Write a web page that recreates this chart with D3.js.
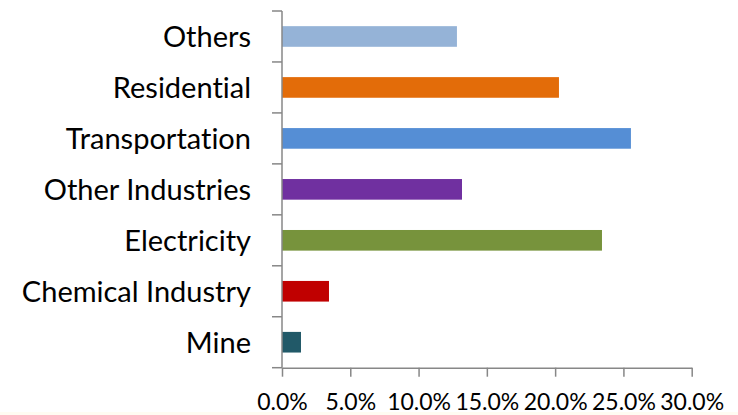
<!DOCTYPE html>
<html>
<head>
<meta charset="utf-8">
<script src="https://cdn.jsdelivr.net/npm/d3@7/dist/d3.min.js"></script>
<style>
  html, body { margin: 0; padding: 0; background: #fff; }
  svg { display: block; }
  text { font-family: Lato, "Open Sans", sans-serif; fill: #000; font-variant-ligatures: none; }
</style>
</head>
<body>
<svg id="chart" width="738" height="415"></svg>
<script>
// Sector shares, listed bottom to top as drawn
const categories = ["Mine", "Chemical Industry", "Electricity", "Other Industries", "Transportation", "Residential", "Others"];
const shares = [0.0139, 0.0344, 0.2343, 0.1318, 0.2555, 0.2028, 0.1281];
const barColors = ["#215968", "#C00000", "#77933C", "#7030A0", "#558ED5", "#E36C09", "#95B3D7"];
const xTicks = [0, 0.05, 0.10, 0.15, 0.20, 0.25, 0.30];

const svg = d3.select("#chart");
const plotLeft = 282, plotRight = 691.7, plotTop = 11, plotBottom = 367.7;
const axisColor = "#878787";

// faint cream strip along the bottom edge
svg.append("rect").attr("x", 0).attr("y", 412).attr("width", 738).attr("height", 3).attr("fill", "#fffcf2");

const x = d3.scaleLinear().domain([0, 0.30]).range([plotLeft, plotRight]);

// top-to-bottom order on screen
const yOrder = categories.slice().reverse();
const y = d3.scaleBand().domain(yOrder).range([plotTop, plotBottom])
  .paddingInner(0.595).paddingOuter(0.2975);
const step = y.step();

// bars
svg.append("g").selectAll("rect")
  .data(categories.map((c, i) => ({ c, v: shares[i], col: barColors[i] })))
  .join("rect")
  .attr("x", x(0))
  .attr("y", d => y(d.c))
  .attr("width", d => x(d.v) - x(0))
  .attr("height", y.bandwidth())
  .attr("fill", d => d.col);

// x axis
const xAxis = d3.axisBottom(x).tickValues(xTicks).tickSize(9).tickSizeOuter(0)
  .tickFormat(d3.format(".1%"));
const gx = svg.append("g").attr("transform", `translate(0,${plotBottom})`).call(xAxis);
gx.select(".domain").attr("stroke", axisColor).attr("stroke-width", 1.5);
gx.selectAll(".tick line").attr("stroke", axisColor).attr("stroke-width", 1.5);
gx.selectAll(".tick text").attr("y", 42.5).attr("dy", 0)
  .style("font-size", "23px").attr("fill", "#000");

// y axis: line, ticks between categories, labels at band centres
const gy = svg.append("g");
gy.append("line").attr("x1", plotLeft).attr("x2", plotLeft).attr("y1", plotTop).attr("y2", plotBottom)
  .attr("stroke", axisColor).attr("stroke-width", 1.5);
const boundaries = d3.range(categories.length + 1).map(i => plotTop + i * step);
gy.selectAll("line.tk").data(boundaries).join("line").attr("class", "tk")
  .attr("x1", plotLeft - 10).attr("x2", plotLeft)
  .attr("y1", d => d).attr("y2", d => d)
  .attr("stroke", axisColor).attr("stroke-width", 1.5);
gy.selectAll("text").data(yOrder).join("text")
  .attr("x", 251)
  .attr("y", d => y(d) + y.bandwidth() / 2)
  .attr("dy", "0.36em")
  .attr("text-anchor", "end")
  .style("font-size", "29px")
  .text(d => d);
</script>
</body>
</html>
